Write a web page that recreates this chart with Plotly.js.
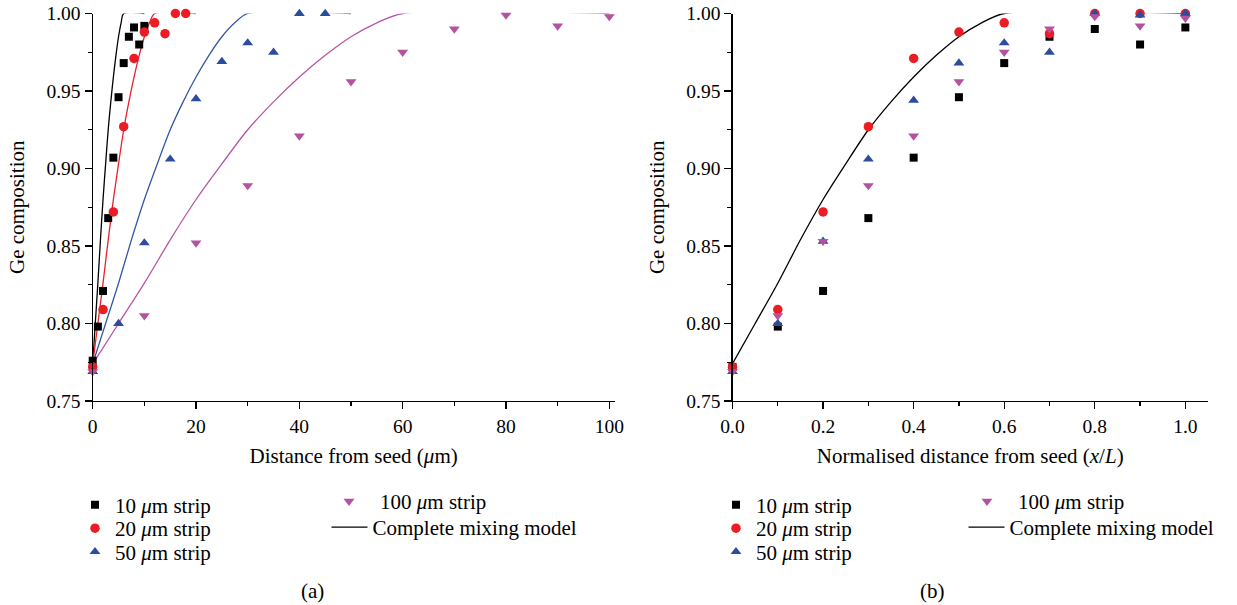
<!DOCTYPE html>
<html>
<head>
<meta charset="utf-8">
<script src="https://cdn.plot.ly/plotly-3.0.1.min.js"></script>
<style>html,body{margin:0;padding:0;background:#fff;}#chart{width:1237px;height:605px;}</style>
</head>
<body>
<div id="chart"></div>
<script>
// ---------- data (a): distance from seed (um) ----------
const x10 = [0, 1, 2, 3, 4, 5, 6, 7, 8, 9, 10];
const y10a = [0.776, 0.798, 0.821, 0.868, 0.907, 0.946, 0.968, 0.985, 0.991, 0.980, 0.992];
const x20 = [0, 2, 4, 6, 8, 10, 12, 14, 16, 18];
const y20a = [0.772, 0.809, 0.872, 0.927, 0.971, 0.988, 0.994, 0.987, 1.000, 1.000];
const x50 = [0, 5, 10, 15, 20, 25, 30, 35, 40, 45];
const y50a = [0.769, 0.800, 0.852, 0.906, 0.945, 0.969, 0.981, 0.975, 1.000, 1.000];
const x100 = [0, 10, 20, 30, 40, 50, 60, 70, 80, 90, 100];
const y100a = [0.769, 0.805, 0.852, 0.889, 0.921, 0.956, 0.975, 0.990, 0.999, 0.992, 0.998];

// ---------- data (b): normalised distance x/L ----------
const xNorm = [0, 0.1, 0.2, 0.3, 0.4, 0.5, 0.6, 0.7, 0.8, 0.9, 1.0];
const y10b = [0.772, 0.798, 0.821, 0.868, 0.907, 0.946, 0.968, 0.985, 0.990, 0.980, 0.991];
const y20b = [0.772, 0.809, 0.872, 0.927, 0.971, 0.988, 0.994, 0.987, 1.000, 1.000, 1.000];
const y50b = [0.769, 0.800, 0.853, 0.906, 0.944, 0.968, 0.981, 0.975, 1.000, 0.999, 1.000];
const y100b = [0.769, 0.805, 0.853, 0.889, 0.921, 0.956, 0.975, 0.990, 0.998, 0.992, 0.997];

// ---------- complete mixing model (normalised) ----------
const xModel = [0, 0.05, 0.1, 0.15, 0.2, 0.25, 0.3, 0.35, 0.4, 0.45, 0.5, 0.55, 0.6, 1.0];
const yModel = [0.774, 0.800, 0.826, 0.854, 0.880, 0.903, 0.925, 0.943, 0.959, 0.973, 0.985, 0.994, 1.000, 1.000];
const stripWidths = [10, 20, 50, 100];

// ---------- labels ----------
const names = ['10 <i>μ</i>m strip', '20 <i>μ</i>m strip', '50 <i>μ</i>m strip', '100 <i>μ</i>m strip'];
const modelName = 'Complete mixing model';
const xTitleA = 'Distance from seed (<i>μ</i>m)';
const xTitleB = 'Normalised distance from seed (<i>x</i>/<i>L</i>)';
const yTitle = 'Ge composition';

// ---------- styling ----------
const W = 1237, H = 605;
const FONT = 'Liberation Serif, Times New Roman, serif';
const markerColors = ['#000000', '#EC1C24', '#2B4C9F', '#B451A0'];
const lineColors = ['#000000', '#E8202A', '#3357A8', '#B855A6'];
const symbols = ['square', 'circle', 'triangle-up', 'triangle-down'];
const sizes = [8, 9.5, 9.5, 9.5];
const fx = v => v / W;
const fy = v => 1 - v / H;

const traces = [];
// model lines (a)
stripWidths.forEach((L, i) => {
  traces.push({
    x: xModel.map(v => v * L), y: yModel, xaxis: 'x', yaxis: 'y',
    mode: 'lines', line: {color: lineColors[i], width: 1.3, shape: 'spline', smoothing: 0.8},
    name: modelName, showlegend: i === 0, legend: 'legend5', cliponaxis: false, hoverinfo: 'skip'
  });
});
const dataA = [[x10, y10a], [x20, y20a], [x50, y50a], [x100, y100a]];
const legA = ['legend', 'legend2', 'legend3', 'legend4'];
dataA.forEach((d, i) => {
  traces.push({
    x: d[0], y: d[1], xaxis: 'x', yaxis: 'y', mode: 'markers', name: names[i],
    marker: {symbol: symbols[i], size: sizes[i], color: markerColors[i], line: {width: 0}},
    legend: legA[i], cliponaxis: false
  });
});
// (b)
traces.push({
  x: xModel, y: yModel, xaxis: 'x2', yaxis: 'y2', mode: 'lines', name: modelName,
  line: {color: '#000000', width: 1.3, shape: 'spline', smoothing: 0.8}, legend: 'legend10', cliponaxis: false
});
const dataB = [y10b, y20b, y50b, y100b];
const legB = ['legend6', 'legend7', 'legend8', 'legend9'];
dataB.forEach((yy, i) => {
  traces.push({
    x: xNorm, y: yy, xaxis: 'x2', yaxis: 'y2', mode: 'markers', name: names[i],
    marker: {symbol: symbols[i], size: sizes[i], color: markerColors[i], line: {width: 0}},
    legend: legB[i], cliponaxis: false
  });
});

const tickFont = {family: FONT, size: 19.5, color: '#000'};
const titleFont = {family: FONT, size: 21, color: '#000'};
function xAx(domain, range, dtick, minorDtick, fmt, title, anchor) {
  return {
    domain: domain, range: range, anchor: anchor, tick0: 0, dtick: dtick, tickformat: fmt,
    showline: true, linecolor: '#000', linewidth: 1.2, ticks: 'outside', ticklen: 7, tickwidth: 1.2, tickcolor: '#000',
    minor: {dtick: minorDtick, ticks: 'outside', ticklen: 4, tickwidth: 1.2, tickcolor: '#000'},
    showgrid: false, zeroline: false, tickfont: tickFont, fixedrange: true, automargin: false,
    title: {text: title, font: titleFont, standoff: 12}
  };
}
function yAx(anchor) {
  return {
    domain: [fy(401), fy(13.5)], range: [0.75, 1.0], anchor: anchor, tick0: 0.75, dtick: 0.05, tickformat: '.2f',
    showline: true, linecolor: '#000', linewidth: 1.2, ticks: 'outside', ticklen: 7, tickwidth: 1.2, tickcolor: '#000',
    minor: {dtick: 0.025, ticks: 'outside', ticklen: 4, tickwidth: 1.2, tickcolor: '#000'},
    showgrid: false, zeroline: false, tickfont: tickFont, fixedrange: true, automargin: false,
    title: {text: yTitle, font: titleFont, standoff: 16}
  };
}
function leg(xc, yc, iw) {
  const o = {x: fx(xc), y: fy(yc), xanchor: 'left', yanchor: 'middle', bgcolor: 'rgba(0,0,0,0)',
          borderwidth: 0, font: {family: FONT, size: 21, color: '#000'}, orientation: 'v'};
  if (iw) o.itemwidth = iw;
  return o;
}

const layout = {
  width: W, height: H, margin: {l: 0, r: 0, t: 0, b: 0},
  paper_bgcolor: '#fff', plot_bgcolor: '#fff', showlegend: true,
  xaxis: xAx([fx(92.7), fx(614.5)], [0, 101], 20, 10, 'd', xTitleA, 'y'),
  yaxis: yAx('x'),
  xaxis2: xAx([fx(732.5), fx(1208)], [0, 1.05], 0.2, 0.1, '.1f', xTitleB, 'y2'),
  yaxis2: yAx('x2'),
  legend: leg(75, 505), legend2: leg(75, 528.5), legend3: leg(75, 552),
  legend4: leg(318, 501.5, 52), legend5: leg(326.5, 527.5, 36),
  legend6: leg(716, 505), legend7: leg(716, 528.5), legend8: leg(716, 552),
  legend9: leg(956, 501.5, 52), legend10: leg(963.5, 527.5, 36),
  annotations: [
    {text: '(a)', x: fx(312), y: fy(591), xref: 'paper', yref: 'paper', showarrow: false,
     font: titleFont, xanchor: 'center', yanchor: 'middle'},
    {text: '(b)', x: fx(932), y: fy(591), xref: 'paper', yref: 'paper', showarrow: false,
     font: titleFont, xanchor: 'center', yanchor: 'middle'}
  ]
};

Plotly.newPlot('chart', traces, layout, {displayModeBar: false, staticPlot: true});
</script>
</body>
</html>
